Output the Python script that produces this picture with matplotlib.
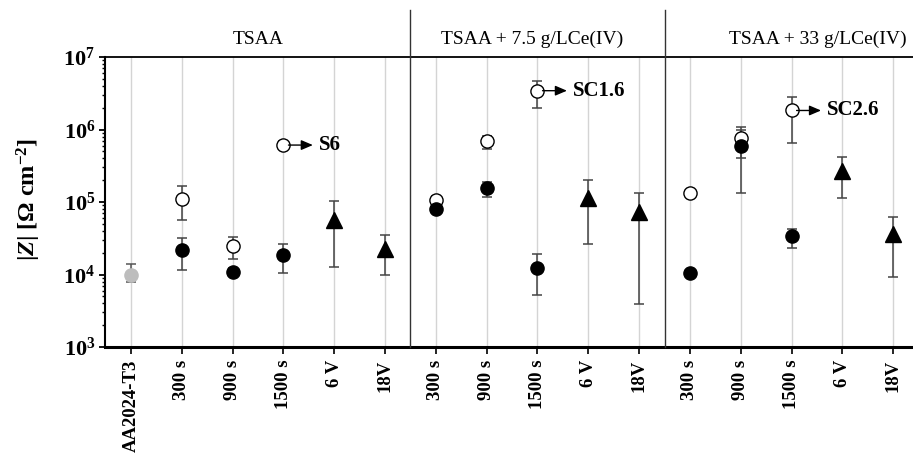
import numpy as np
import matplotlib
matplotlib.use('Agg')
import matplotlib.pyplot as plt
from matplotlib.transforms import blended_transform_factory
from matplotlib.ticker import FixedLocator, FixedFormatter, LogLocator, NullFormatter

plt.rcParams['font.family'] = ['Liberation Serif', 'DejaVu Serif']
plt.rcParams['mathtext.fontset'] = 'custom'
plt.rcParams['mathtext.rm'] = 'Liberation Serif'
plt.rcParams['mathtext.bf'] = 'Liberation Serif:bold'
plt.rcParams['mathtext.it'] = 'Liberation Serif:italic'
plt.rcParams['mathtext.bfit'] = 'Liberation Serif:bold:italic'

# ---------------- data ----------------
categories = ['AA2024-T3', '300 s', '900 s', '1500 s', '6 V', '18V',
              '300 s', '900 s', '1500 s', '6 V', '18V',
              '300 s', '900 s', '1500 s', '6 V', '18V']
groups = ['TSAA', 'TSAA + 7.5 g/LCe(IV)', 'TSAA + 33 g/LCe(IV)']
nan = np.nan

bare_val = [1.0e4, nan, nan, nan, nan, nan, nan, nan, nan, nan, nan, nan, nan, nan, nan, nan]
bare_lo = [7.9e3, nan, nan, nan, nan, nan, nan, nan, nan, nan, nan, nan, nan, nan, nan, nan]
bare_hi = [1.38e4, nan, nan, nan, nan, nan, nan, nan, nan, nan, nan, nan, nan, nan, nan, nan]

open_val = [nan, 1.09e5, 2.48e4, 6.1e5, nan, nan, 1.06e5, 6.9e5, 3.43e6, nan, nan, 1.31e5, 7.7e5, 1.83e6, nan, nan]
open_lo = [nan, 5.6e4, 1.62e4, 5.4e5, nan, nan, 9.6e4, 5.36e5, 1.98e6, nan, nan, 1.2e5, 4.0e5, 6.5e5, nan, nan]
open_hi = [nan, 1.65e5, 3.3e4, 7.0e5, nan, nan, 1.2e5, 8.1e5, 4.7e6, nan, nan, 1.42e5, 1.08e6, 2.83e6, nan, nan]

filled_val = [nan, 2.21e4, 1.08e4, 1.84e4, nan, nan, 7.9e4, 1.57e5, 1.23e4, nan, nan, 1.05e4, 6.0e5, 3.44e4, nan, nan]
filled_lo = [nan, 1.15e4, 9.5e3, 1.04e4, nan, nan, 7.2e4, 1.16e5, 5.2e3, nan, nan, 9.6e3, 1.31e5, 2.35e4, nan, nan]
filled_hi = [nan, 3.2e4, 1.22e4, 2.64e4, nan, nan, 8.6e4, 1.9e5, 1.94e4, nan, nan, 1.15e4, 1.0e6, 4.26e4, nan, nan]

tri_val = [nan, nan, nan, nan, 5.6e4, 2.28e4, nan, nan, nan, 1.12e5, 7.3e4, nan, nan, nan, 2.69e5, 3.67e4]
tri_lo = [nan, nan, nan, nan, 1.27e4, 1.0e4, nan, nan, nan, 2.6e4, 3.96e3, nan, nan, nan, 1.12e5, 9.3e3]
tri_hi = [nan, nan, nan, nan, 1.03e5, 3.56e4, nan, nan, nan, 2.0e5, 1.34e5, nan, nan, nan, 4.2e5, 6.2e4]

sealed_idx = [3, 8, 13]
sealed_names = ['S6', 'SC1.6', 'SC2.6']

# ---------------- figure ----------------
W, H = 913, 453
fig = plt.figure(figsize=(W / 100, H / 100), dpi=100)
ax = fig.add_axes([105 / W, 106 / H, (W - 105) / W, 290 / H])
x = np.arange(len(categories))

ax.set_yscale('log')
ax.set_ylim(1e3, 1e7)
ax.set_xlim(-0.51, 15.39)

for xi in x:
    ax.axvline(xi, color='#d4d4d4', lw=1.0, zorder=0)


def draw(vals, lo, hi, ecol, **mk):
    v = np.array(vals, float)
    l = np.array(lo, float)
    h = np.array(hi, float)
    m = ~np.isnan(v)
    ax.errorbar(x[m], v[m], yerr=[v[m] - l[m], h[m] - v[m]], fmt='none',
                ecolor=ecol, elinewidth=1.1, capsize=3.5, capthick=1.1, zorder=2)
    ax.plot(x[m], v[m], linestyle='none', zorder=3, **mk)


draw(bare_val, bare_lo, bare_hi, '#555555', marker='o', ms=9.5,
     mfc='#bdbdbd', mec='#bdbdbd')
draw(open_val, open_lo, open_hi, '#444444', marker='o', ms=9.5,
     mfc='white', mec='black', mew=1.0)
draw(filled_val, filled_lo, filled_hi, '#444444', marker='o', ms=9.5,
     mfc='black', mec='black')
draw(tri_val, tri_lo, tri_hi, '#444444', marker='^', ms=11,
     mfc='black', mec='black')

# arrows to sealed labels
for i, name in zip(sealed_idx, sealed_names):
    yv = open_val[i]
    ax.annotate('', xy=(i + 0.58, yv), xytext=(i + 0.1, yv),
                arrowprops=dict(arrowstyle='-|>,head_length=0.7,head_width=0.3',
                                color='black', lw=1.0, shrinkA=0, shrinkB=0),
                zorder=4)
    ax.text(i + 0.7, yv, name, fontsize=15, fontweight='bold',
            va='center', ha='left', zorder=4)

# axes styling
ax.spines['right'].set_visible(False)
ax.spines['top'].set_linewidth(1.3)
ax.spines['left'].set_linewidth(1.5)
ax.spines['bottom'].set_linewidth(2.2)

ax.xaxis.set_major_locator(FixedLocator(x))
ax.set_xticklabels(categories, rotation=90, fontsize=13.5, fontweight='bold')
ax.tick_params(axis='x', direction='out', length=5, width=1.2, pad=4)

ax.yaxis.set_major_locator(FixedLocator([1e3, 1e4, 1e5, 1e6, 1e7]))
ax.yaxis.set_major_formatter(FixedFormatter([r'$\mathbf{10^{3}}$', r'$\mathbf{10^{4}}$',
                                             r'$\mathbf{10^{5}}$', r'$\mathbf{10^{6}}$',
                                             r'$\mathbf{10^{7}}$']))
ax.yaxis.set_minor_locator(LogLocator(base=10, subs=np.arange(2, 10), numticks=20))
ax.yaxis.set_minor_formatter(NullFormatter())
ax.tick_params(axis='y', which='major', direction='out', length=4, width=1.3,
               labelsize=16, pad=3)
ax.tick_params(axis='y', which='minor', direction='out', length=2.5, width=1.0)

# group dividers and headers
trans = blended_transform_factory(ax.transData, ax.transAxes)
for xd in [5.5, 10.5]:
    ax.plot([xd, xd], [0, 1.162], transform=trans, color='#333333', lw=1.0,
            clip_on=False, zorder=5)
for xc, g in zip([2.5, 7.9, 13.52], groups):
    ax.text(xc, 1.062, g, transform=trans, ha='center', va='center', fontsize=14)

fig.text(29 / W, 1 - 199 / H, r'|$\mathbfit{Z}$| [Ω cm$^{\mathbf{-2}}$]',
         rotation=90, ha='center', va='center', fontsize=17.5, fontweight='bold')

fig.savefig('out.png', dpi=100)
